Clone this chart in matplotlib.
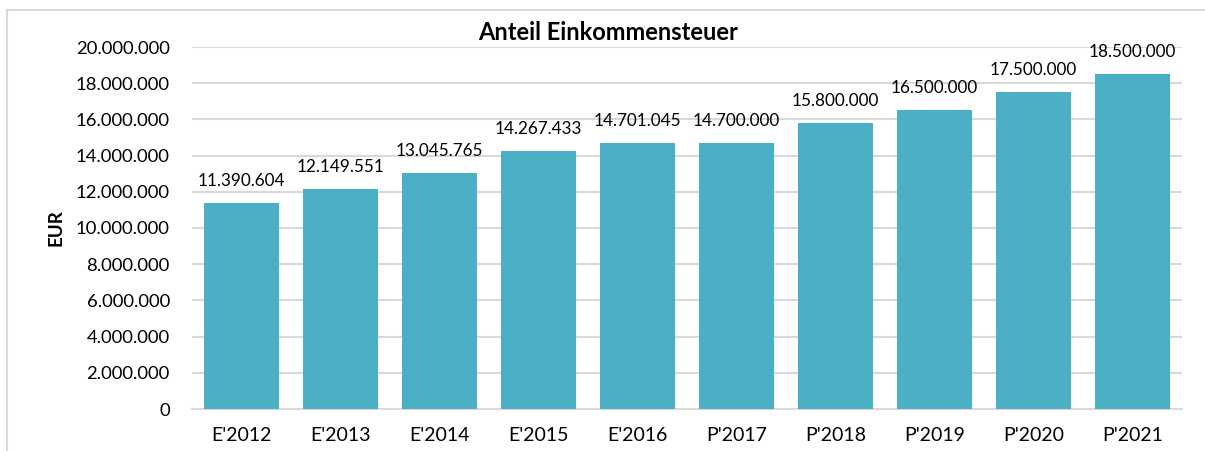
import matplotlib
matplotlib.use("Agg")
import matplotlib.pyplot as plt
from matplotlib.lines import Line2D

categories = ["E'2012", "E'2013", "E'2014", "E'2015", "E'2016", "P'2017", "P'2018", "P'2019", "P'2020", "P'2021"]
values = [11390604, 12149551, 13045765, 14267433, 14701045, 14700000, 15800000, 16500000, 17500000, 18500000]
yticks = [0, 2000000, 4000000, 6000000, 8000000, 10000000, 12000000, 14000000, 16000000, 18000000, 20000000]

def fmt(v):
    return f"{v:,.0f}".replace(",", ".")

plt.rcParams['font.family'] = ['Lato', 'DejaVu Sans']

fig = plt.figure(figsize=(12.05, 4.51), dpi=100)
ax = fig.add_axes([192/1205, 1-409/451, (1182-192)/1205, (409-47)/451])

x = range(len(categories))
ax.bar(x, values, width=0.75, color="#4BB0C6", zorder=3)
for xi, v in zip(x, values):
    ax.text(xi, v + 780000, fmt(v), ha="center", va="bottom", fontsize=12.3, color="#000000")

ax.set_xlim(-0.5, len(categories) - 0.5)
ax.set_ylim(0, 20000000)
ax.set_yticks(yticks)
ax.set_yticklabels([fmt(t) for t in yticks], fontsize=13.3)
ax.set_xticks(list(x))
ax.set_xticklabels(categories, fontsize=14)
ax.tick_params(axis="both", length=0)
ax.tick_params(axis="y", pad=16)
ax.tick_params(axis="x", pad=13)
ax.grid(axis="y", color="#D9D9D9", linewidth=1.5, zorder=0)
for s in ["top", "right", "left"]:
    ax.spines[s].set_visible(False)
ax.spines["bottom"].set_color("#D9D9D9")
ax.spines["bottom"].set_linewidth(1.5)

fig.text(608/1205, 1-32/451, "Anteil Einkommensteuer", ha="center", va="center", fontsize=17, fontweight="bold")
fig.text(56/1205, 1-228/451, "EUR", ha="center", va="center", fontsize=13.5, fontweight="bold", rotation=90)

# outer chart frame (left and top visible)
fig.add_artist(Line2D([7/1205, 7/1205], [0, 1-10/451], transform=fig.transFigure, color="#D9D9D9", linewidth=1.5))
fig.add_artist(Line2D([7/1205, 1], [1-10/451, 1-10/451], transform=fig.transFigure, color="#D9D9D9", linewidth=1.5))

fig.savefig("out.png", dpi=100)
